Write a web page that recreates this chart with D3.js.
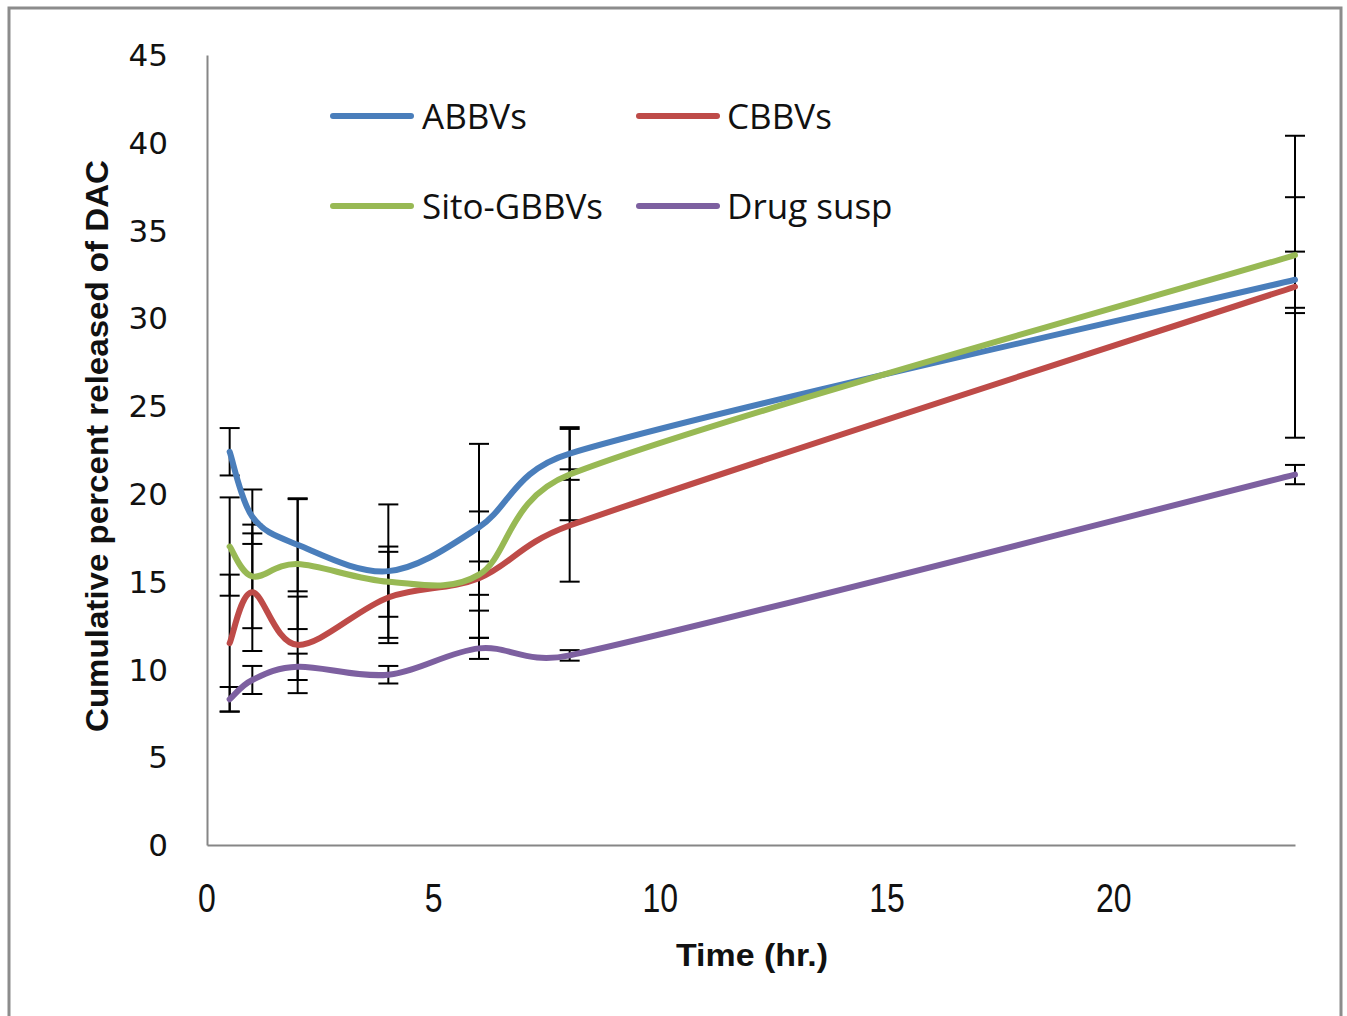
<!DOCTYPE html>
<html>
<head>
<meta charset="utf-8">
<script src="https://cdn.jsdelivr.net/npm/d3@7"></script>
<style>
  html, body { margin: 0; padding: 0; background: #fff; }
  svg { display: block; }
</style>
</head>
<body>
<svg id="chart" width="1347" height="1016"></svg>
<script>
// sampling times (hr.)
const times = [0.5, 1, 2, 4, 6, 8, 24];

// cumulative percent released of DAC, per formulation
const abbvs = [22.4, 18.7, 17.1, 15.6, 18.1, 22.3, 32.2];
const abbvsErr = [1.35, 1.55, 2.65, 3.8, 4.75, 1.5, 1.6];
const cbbvs = [11.5, 14.4, 11.4, 14.1, 15.2, 18.2, 31.8];
const cbbvsErr = [3.9, 3.35, 2.75, 2.6, 0.95, 3.2, 8.6];
const sitoGbbvs = [17.0, 15.3, 16.0, 15.0, 15.4, 21.1, 33.6];
const sitoGbbvsErr = [2.8, 2.95, 3.7, 2.0, 3.6, 2.6, 3.3];
const drugSusp = [8.3, 9.4, 10.15, 9.7, 11.2, 10.8, 21.1];
const drugSuspErr = [0.7, 0.8, 0.75, 0.5, 0.6, 0.3, 0.55];

const seriesNames = ["ABBVs", "CBBVs", "Sito-GBBVs", "Drug susp"];
const seriesColors = ["#4a7ebb", "#be4b48", "#98b954", "#7d60a0"];
const xTicks = [0, 5, 10, 15, 20];
const yTicks = [0, 5, 10, 15, 20, 25, 30, 35, 40, 45];

const series = [
  { name: seriesNames[0], values: abbvs, errs: abbvsErr, color: seriesColors[0] },
  { name: seriesNames[1], values: cbbvs, errs: cbbvsErr, color: seriesColors[1] },
  { name: seriesNames[2], values: sitoGbbvs, errs: sitoGbbvsErr, color: seriesColors[2] },
  { name: seriesNames[3], values: drugSusp, errs: drugSuspErr, color: seriesColors[3] }
];

// spreadsheet-style smoothing: catmull-rom direction, control arm capped at half the segment
function smoothCurve(context) {
  let pts;
  return {
    areaStart() {},
    areaEnd() {},
    lineStart() { pts = []; },
    point(px, py) { pts.push([+px, +py]); },
    lineEnd() {
      const n = pts.length;
      if (!n) return;
      const dist = (a, b) => Math.hypot(b[0] - a[0], b[1] - a[1]);
      context.moveTo(pts[0][0], pts[0][1]);
      for (let i = 0; i < n - 1; i++) {
        const p0 = pts[i - 1] || pts[i];
        const p1 = pts[i];
        const p2 = pts[i + 1];
        const p3 = pts[i + 2] || pts[i + 1];
        const d12 = dist(p1, p2);
        const d02 = dist(p0, p2);
        const d13 = dist(p1, p3);
        const f1 = d02 > 0 ? Math.min(1 / 6, d12 / 2 / d02) : 0;
        const f2 = d13 > 0 ? Math.min(1 / 6, d12 / 2 / d13) : 0;
        context.bezierCurveTo(
          p1[0] + (p2[0] - p0[0]) * f1, p1[1] + (p2[1] - p0[1]) * f1,
          p2[0] - (p3[0] - p1[0]) * f2, p2[1] - (p3[1] - p1[1]) * f2,
          p2[0], p2[1]
        );
      }
    }
  };
}

const svg = d3.select("#chart");

// outer frame
svg.append("path")
  .attr("d", "M9,1016 V8 H1341 V1016")
  .attr("fill", "none")
  .attr("stroke", "#8c8c8c")
  .attr("stroke-width", 3);

const x = d3.scaleLinear().domain([0, 24]).range([207, 1295]);
const y = d3.scaleLinear().domain([0, 45]).range([845, 55]);

// axes
const xAxis = svg.append("g")
  .attr("transform", `translate(0,${y(0)})`)
  .call(d3.axisBottom(x).tickValues(xTicks).tickSize(0).tickPadding(0));
xAxis.select(".domain").attr("stroke", "#868686").attr("stroke-width", 2);
xAxis.selectAll("text").remove();

const yAxis = svg.append("g")
  .attr("transform", `translate(${x(0)},0)`)
  .call(d3.axisLeft(y).tickValues(yTicks).tickSize(0).tickPadding(0));
yAxis.select(".domain").attr("stroke", "#868686").attr("stroke-width", 2);
yAxis.selectAll("text").remove();

// y tick labels
svg.append("g")
  .selectAll("text")
  .data(yTicks)
  .join("text")
  .attr("x", 168)
  .attr("y", d => y(d))
  .attr("dy", "0.36em")
  .attr("text-anchor", "end")
  .attr("font-family", "DejaVu Sans")
  .attr("font-size", 31)
  .attr("fill", "#111")
  .text(d => d);

// x tick labels (narrow)
svg.append("g")
  .selectAll("text")
  .data(xTicks)
  .join("text")
  .attr("transform", d => `translate(${x(d)},912) scale(0.78,1)`)
  .attr("text-anchor", "middle")
  .attr("font-family", "Liberation Sans")
  .attr("font-size", 41)
  .attr("fill", "#111")
  .text(d => d);

// axis titles
svg.append("text")
  .attr("transform", "translate(108,446) rotate(-90)")
  .attr("text-anchor", "middle")
  .attr("font-family", "Liberation Sans")
  .attr("font-weight", "bold")
  .attr("font-size", 31)
  .attr("textLength", 572)
  .attr("lengthAdjust", "spacingAndGlyphs")
  .attr("fill", "#111")
  .text("Cumulative  percent released  of DAC");

svg.append("text")
  .attr("x", 752)
  .attr("y", 966)
  .attr("text-anchor", "middle")
  .attr("font-family", "Liberation Sans")
  .attr("font-weight", "bold")
  .attr("font-size", 32)
  .attr("textLength", 152)
  .attr("lengthAdjust", "spacingAndGlyphs")
  .attr("fill", "#111")
  .text("Time  (hr.)");

// error bars
const capHalf = 10;
const bars = svg.append("g").attr("stroke", "#000").attr("stroke-width", 2);
series.forEach(s => {
  const g = bars.append("g");
  const pts = times.map((t, i) => ({ t, v: s.values[i], e: s.errs[i] }));
  g.selectAll("line.stem")
    .data(pts)
    .join("line")
    .attr("class", "stem")
    .attr("x1", d => x(d.t)).attr("x2", d => x(d.t))
    .attr("y1", d => y(d.v + d.e)).attr("y2", d => y(d.v - d.e));
  g.selectAll("line.cap-top")
    .data(pts)
    .join("line")
    .attr("class", "cap-top")
    .attr("x1", d => x(d.t) - capHalf).attr("x2", d => x(d.t) + capHalf)
    .attr("y1", d => y(d.v + d.e)).attr("y2", d => y(d.v + d.e));
  g.selectAll("line.cap-bot")
    .data(pts)
    .join("line")
    .attr("class", "cap-bot")
    .attr("x1", d => x(d.t) - capHalf).attr("x2", d => x(d.t) + capHalf)
    .attr("y1", d => y(d.v - d.e)).attr("y2", d => y(d.v - d.e));
});

// smoothed lines
const line = d3.line()
  .x(d => x(d[0]))
  .y(d => y(d[1]))
  .curve(smoothCurve);

svg.append("g")
  .selectAll("path")
  .data(series)
  .join("path")
  .attr("d", s => line(times.map((t, i) => [t, s.values[i]])))
  .attr("fill", "none")
  .attr("stroke", s => s.color)
  .attr("stroke-width", 6)
  .attr("stroke-linecap", "round")
  .attr("stroke-linejoin", "round");

// legend
const legendPos = [
  { lx: 333, tx: 422, y: 116 },
  { lx: 639, tx: 727, y: 116 },
  { lx: 333, tx: 422, y: 206 },
  { lx: 639, tx: 727, y: 206 }
];
const legend = svg.append("g")
  .selectAll("g")
  .data(series)
  .join("g");
legend.append("line")
  .attr("x1", (d, i) => legendPos[i].lx)
  .attr("x2", (d, i) => legendPos[i].lx + 78)
  .attr("y1", (d, i) => legendPos[i].y)
  .attr("y2", (d, i) => legendPos[i].y)
  .attr("stroke", d => d.color)
  .attr("stroke-width", 6)
  .attr("stroke-linecap", "round");
legend.append("text")
  .attr("x", (d, i) => legendPos[i].tx)
  .attr("y", (d, i) => legendPos[i].y)
  .attr("dy", "0.36em")
  .attr("font-family", "Open Sans")
  .attr("font-size", 35)
  .attr("fill", "#111")
  .text(d => d.name);
</script>
</body>
</html>
